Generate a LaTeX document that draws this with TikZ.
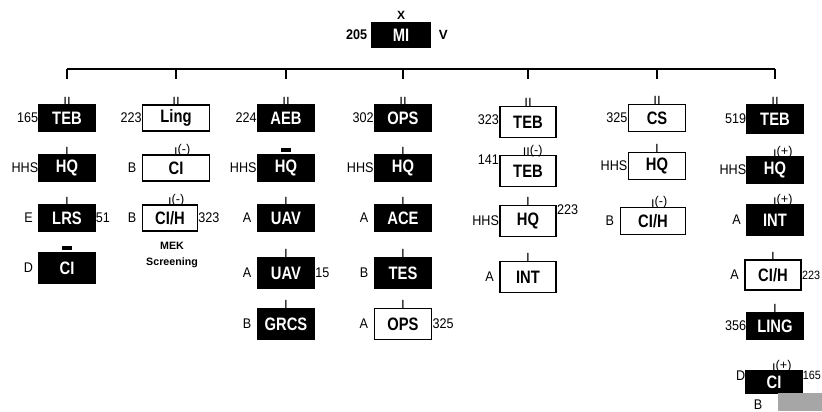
\documentclass[tikz,border=0pt]{standalone}
\usepackage{fontspec}
\setmainfont{Liberation Sans}
\newfontfamily\boxfont[FakeStretch=0.82]{Liberation Sans}
\newfontfamily\sidefont[FakeStretch=0.9]{Liberation Sans}
\usetikzlibrary{positioning}

% unit mark with a raised modifier
\newcommand{\umark}[2]{#1\raisebox{1.8pt}{(#2)}}

\begin{document}
\begin{tikzpicture}[
  x=0.75pt, y=-0.75pt,
  blk/.style={draw=black, fill=black, text=white, line width=0.8pt, minimum width=42pt, minimum height=19.5pt, inner sep=0pt, label distance=1.5pt, font=\boxfont\bfseries\fontsize{13.5}{13.5}\selectfont},
  wht/.style={blk, fill=white, text=black, line width=1.1pt},
  side/.style={inner sep=0pt, text=black, font=\sidefont\fontsize{10.5}{10.5}\selectfont},
  tick/.style={inner sep=0pt, yshift=-1.5pt, text=black, text depth=0pt, font=\fontsize{10}{10}\selectfont},
  tickr/.style={tick, anchor=south west, xshift=-1.6pt, font=\fontsize{9.5}{9.5}\selectfont},
  bar/.style={inner sep=0pt, text=black, yshift=1.5pt},
  bus/.style={line width=2.2pt},
  note/.style={inner sep=0pt, align=center, font=\bfseries\fontsize{8}{12}\selectfont}
]
\fill[white] (0,0) rectangle (822,411);
\useasboundingbox (0,0) rectangle (822,411);

% Top node
\node (mi) [blk, minimum width=43.5pt, minimum height=18pt,
  label={[side, font=\sidefont\bfseries\fontsize{10.5}{10.5}\selectfont, label distance=3pt]left:205},
  label={[side, font=\bfseries\fontsize{10}{10}\selectfont, label distance=6pt]right:V},
  label={[side, font=\bfseries\fontsize{9}{9}\selectfont, label distance=2pt]above:X}] at (401,35) {MI};

% Column 1
\node (teb1) [blk, label={[side]left:165}, label={[tick]above:II}] at (67,118) {TEB};
\node (hq1)  [blk, label={[side]left:HHS}, label={[tick]above:I}] at (67,168) {HQ};
\node (lrs1) [blk, label={[side, label distance=4pt]left:E}, label={[side]right:51}, label={[tick]above:I}] at (67,218) {LRS};
\node (ci1)  [blk, minimum height=22.5pt, label={[side, label distance=4pt]left:D}, label={[bar]above:\rule{7pt}{3pt}}] at (67,268) {CI};

% Column 2
\node (ling2) [wht, minimum width=50pt, label={[side]left:223}, label={[tick]above:II}] at (176,118) {Ling};
\node (ci2)   [wht, minimum width=50pt, label={[side, label distance=4pt]left:B}, label={[tickr]north:\umark{I}{-}}] at (176,168) {CI};
\node (cih2)  [wht, minimum width=41pt, label={[side, label distance=4pt]left:B}, label={[side]right:323}, label={[tickr]north:\umark{I}{-}}] at (170,218) {CI/H};
\node (mek2)  [note] at (172,255) {MEK\\Screening};

% Column 3
\node (aeb3)  [blk, minimum width=43pt, label={[side]left:224}, label={[tick]above:II}] at (286,118) {AEB};
\node (hq3)   [blk, minimum width=43pt, label={[side]left:HHS}, label={[bar]above:\rule{7pt}{3pt}}] at (286,168) {HQ};
\node (uav3a) [blk, minimum width=43pt, label={[side, label distance=4pt]left:A}, label={[tick]above:I}] at (286,218) {UAV};
\node (uav3b) [blk, minimum width=43pt, minimum height=23pt, label={[side, label distance=4pt]left:A}, label={[side]right:15}, label={[tick]above:I}] at (286,273) {UAV};
\node (grcs3) [blk, minimum width=43pt, minimum height=23pt, label={[side, label distance=4pt]left:B}, label={[tick]above:I}] at (286,324) {GRCS};

% Column 4
\node (ops4)  [blk, minimum width=43pt, label={[side]left:302}, label={[tick]above:II}] at (403,118) {OPS};
\node (hq4)   [blk, minimum width=43pt, label={[side]left:HHS}, label={[tick]above:I}] at (403,168) {HQ};
\node (ace4)  [blk, minimum width=43pt, label={[side, label distance=4pt]left:A}, label={[tick]above:I}] at (403,218) {ACE};
\node (tes4)  [blk, minimum width=43pt, minimum height=23pt, label={[side, label distance=4pt]left:B}, label={[tick]above:I}] at (403,273) {TES};
\node (ops4w) [wht, minimum width=43pt, minimum height=23pt, label={[side, label distance=4pt]left:A}, label={[side]right:325}, label={[tick]above:I}] at (403,324) {OPS};

% Column 5
\node (teb5a) [wht, minimum height=23pt, label={[side, yshift=2pt]left:323}, label={[tick]above:II}] at (528,122) {TEB};
\node (teb5b) [wht, minimum height=23pt, label={[side, anchor=north east]north west:141}, label={[tickr, xshift=-2.5pt]north:\umark{II}{-}}] at (528,171) {TEB};
\node (hq5)   [wht, minimum height=23pt, label={[side]left:HHS}, label={[side, anchor=north west]north east:223}, label={[tick]above:I}] at (528,221) {HQ};
\node (int5)  [wht, minimum height=23pt, label={[side, label distance=4pt]left:A}, label={[tick]above:I}] at (528,277) {INT};

% Column 6
\node (cs6)  [wht, minimum width=43pt, minimum height=20.5pt, label={[side]left:325}, label={[tick]above:II}] at (657,118) {CS};
\node (hq6)  [wht, minimum width=43pt, minimum height=20.5pt, label={[side]left:HHS}, label={[tick]above:I}] at (657,166) {HQ};
\node (cih6) [wht, minimum width=49pt, minimum height=20.5pt, label={[side, label distance=4pt]left:B}, label={[tickr]north:\umark{I}{-}}] at (653,221) {CI/H};

% Column 7
\node (teb7)  [blk, minimum height=21pt, label={[side]left:519}, label={[tick]above:II}] at (775,119) {TEB};
\node (hq7)   [blk, label={[side]left:HHS}, label={[tickr]north:\umark{I}{+}}] at (775,170) {HQ};
\node (int7)  [blk, minimum height=22.5pt, label={[side, label distance=4pt]left:A}, label={[tickr]north:\umark{I}{+}}] at (775,220) {INT};
\node (cih7)  [wht, minimum width=42pt, minimum height=22.5pt, label={[side, label distance=4pt]left:A}, label={[side, font=\sidefont\fontsize{9}{9}\selectfont]right:223}, label={[tick]above:I}] at (773,275) {CI/H};
\node (ling7) [blk, minimum height=20pt, label={[side]left:356}, label={[tick]above:I}] at (775,326) {LING};
\node (ci7)   [blk, minimum width=42pt, minimum height=16.5pt, label={[side, anchor=north east]north west:D}, label={[side, anchor=north west, font=\sidefont\fontsize{9}{9}\selectfont]north east:165}, label={[tickr]north:\umark{I}{+}}] at (774,382) {CI};
\node (ci7b)  [side] at (758,405) {B};
\fill[black!35] (778,393) rectangle (822,411);

% Bus line and stubs
\coordinate (busy) at (0,69);
\coordinate (stuby) at (0,79);
\draw [bus] (teb1 |- busy) -- (teb7 |- busy);
\foreach \c in {teb1,ling2,aeb3,ops4,teb5a,cs6,teb7}
  \draw [bus] (\c |- busy) -- (\c |- stuby);

\end{tikzpicture}
\end{document}
